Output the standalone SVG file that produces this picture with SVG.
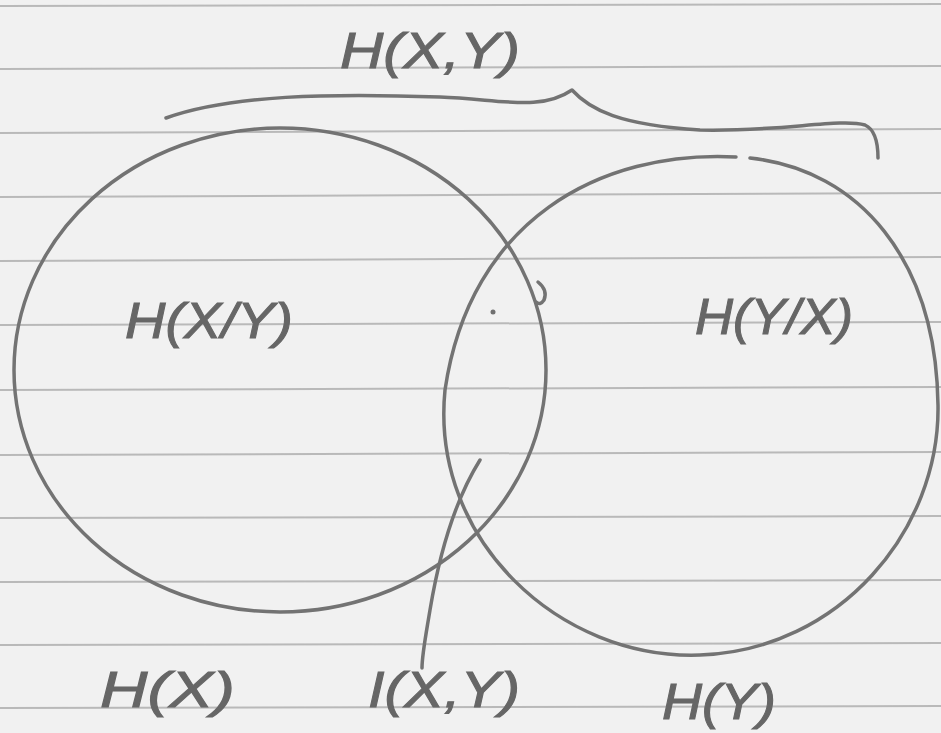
<svg xmlns="http://www.w3.org/2000/svg" width="941" height="733" viewBox="0 0 941 733">
<style>
.paper{fill:#f1f1f1}
.rule{stroke:#b9b9b9;stroke-width:2;fill:none}
.ink{stroke:#737373;stroke-width:3.5;fill:none;stroke-linecap:round;stroke-linejoin:round}
.lbl{font-family:"Liberation Sans",Arial,sans-serif;font-style:italic;font-size:50px;fill:#666666;stroke:#666666;stroke-width:1}
</style>
<rect class="paper" x="0" y="0" width="941" height="733"/>
<g id="ruled-lines">
<line class="rule" x1="0" y1="6" x2="941" y2="4"/>
<line class="rule" x1="0" y1="69" x2="941" y2="66"/>
<line class="rule" x1="0" y1="133" x2="941" y2="129"/>
<line class="rule" x1="0" y1="197" x2="941" y2="193"/>
<line class="rule" x1="0" y1="261" x2="941" y2="257"/>
<line class="rule" x1="0" y1="325" x2="941" y2="322"/>
<line class="rule" x1="0" y1="390" x2="941" y2="387"/>
<line class="rule" x1="0" y1="455" x2="941" y2="452"/>
<line class="rule" x1="0" y1="518" x2="941" y2="516"/>
<line class="rule" x1="0" y1="582" x2="941" y2="580"/>
<line class="rule" x1="0" y1="645" x2="941" y2="643"/>
<line class="rule" x1="0" y1="708" x2="941" y2="706"/>
</g>
<g id="node-hx">
<ellipse class="ink" cx="280" cy="370" rx="266" ry="242"/>
<path class="ink" d="M538 282 q10 8 6 18 q-4 6 -8 2"/>
</g>
<g id="node-hy">
<path class="ink" d="M736 157 C 600 150, 470 220, 445 390 C 430 540, 560 660, 700 655 C 840 650, 940 530, 938 405 C 936 260, 860 170, 750 158"/>
</g>
<g id="dot">
<circle cx="493" cy="312" r="2.5" fill="#707070"/>
</g>
<g id="connectors">
<path id="brace" class="ink" d="M166 118 C 230 95, 330 93, 440 97 C 500 99, 540 112, 572 90 C 590 110, 620 125, 700 130 C 780 132, 840 118, 865 125 C 876 130, 878 145, 878 158"/>
<path id="pointer" class="ink" d="M480 460 C 455 500, 440 550, 430 610 C 425 640, 422 655, 422 668"/>
</g>
<g id="label-hxy"><text class="lbl" x="340" y="68" textLength="180" lengthAdjust="spacingAndGlyphs">H(X,Y)</text></g>
<g id="label-hx-given-y"><text class="lbl" x="125" y="338" textLength="168" lengthAdjust="spacingAndGlyphs">H(X/Y)</text></g>
<g id="label-hy-given-x"><text class="lbl" x="695" y="334" textLength="158" lengthAdjust="spacingAndGlyphs">H(Y/X)</text></g>
<g id="label-hx-total"><text class="lbl" x="100" y="707" textLength="135" lengthAdjust="spacingAndGlyphs">H(X)</text></g>
<g id="label-ixy"><text class="lbl" x="368" y="707" textLength="152" lengthAdjust="spacingAndGlyphs">I(X,Y)</text></g>
<g id="label-hy-total"><text class="lbl" x="662" y="719" textLength="114" lengthAdjust="spacingAndGlyphs" font-size="44">H(Y)</text></g>
</svg>
